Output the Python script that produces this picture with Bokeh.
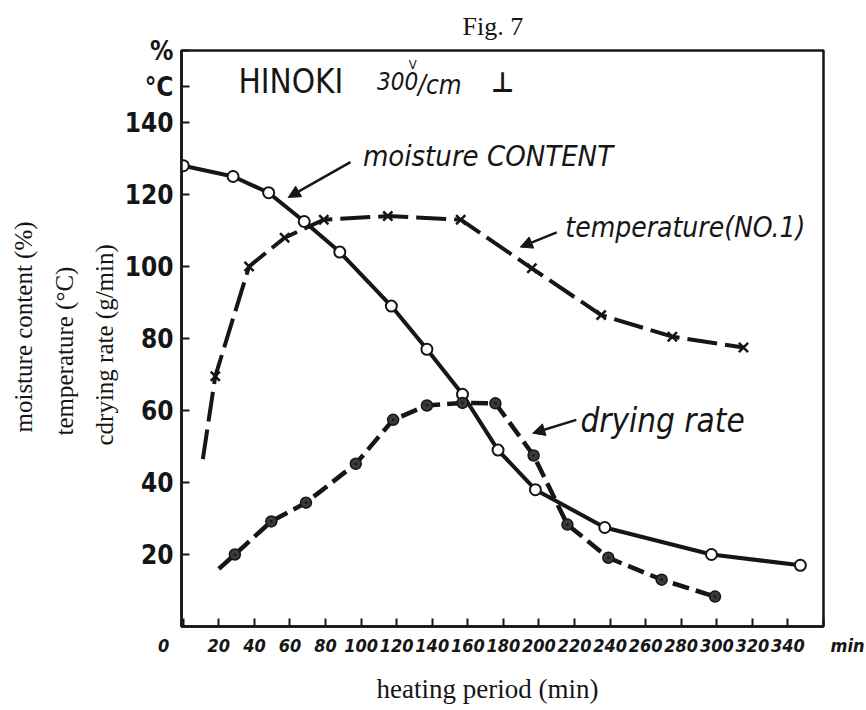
from bokeh.plotting import figure
from bokeh.models import Range1d, FixedTicker, Label, Arrow, NormalHead, Title
from bokeh.embed import file_html
from bokeh.resources import INLINE

# ---- data ----
# heating period (min) vs moisture content (%)
moist_x = [0, 28, 48, 68, 88, 117, 137, 157, 177, 198, 237, 297, 347]
moist_y = [128, 125, 120.5, 112.5, 104, 89, 77, 64.5, 49, 38, 27.5, 20, 17]

# temperature (deg C); first point is the start of the curve (no marker)
temp_x = [11, 18, 37, 57, 79, 115, 156, 196, 235, 275, 315]
temp_y = [46.5, 69.5, 100, 108, 113, 114, 113, 99.5, 86.5, 80.5, 77.5]

# drying rate (g/min); first point is the start of the curve (no marker)
dry_x = [20, 29, 49.5, 69, 97, 118, 137, 157, 175.5, 197, 216, 239, 269, 299]
dry_y = [16, 20, 29.2, 34.4, 45.2, 57.4, 61.4, 62.1, 62, 47.5, 28.3, 19.1, 13, 8.3]

x_ticks = [0, 20, 40, 60, 80, 100, 120, 140, 160, 180, 200, 220, 240, 260, 280, 300, 320, 340, 360]
x_tick_labels = ["0", "20", "40", "60", "80", "100", "120", "140", "160", "180", "200",
                 "220", "240", "260", "280", "300", "320", "340", "min"]
y_ticks = [20, 40, 60, 80, 100, 120, 140, 150, 160]
y_tick_labels = ["20", "40", "60", "80", "100", "120", "140", "\u00b0C", "%"]

INK = "#161616"
HAND = "DejaVu Sans Condensed, DejaVu Sans"
SERIF = "Liberation Serif"
NB = "\u00a0"

p = figure(frame_width=642, frame_height=576,
           min_border_left=181, min_border_right=41, min_border_top=50, min_border_bottom=84,
           x_range=Range1d(-1, 360), y_range=Range1d(0, 160),
           output_backend="svg", toolbar_location=None)

p.xgrid.visible = False
p.ygrid.visible = False
p.outline_line_color = INK
p.outline_line_width = 2.5
p.outline_line_alpha = 1.0
p.background_fill_color = "white"
p.border_fill_color = "white"

for ax in (p.xaxis[0], p.yaxis[0]):
    ax.axis_line_width = 2.5
    ax.axis_line_color = INK
    ax.major_tick_in = 8
    ax.major_tick_out = 0
    ax.major_tick_line_width = 2
    ax.major_tick_line_color = INK
    ax.minor_tick_line_color = None
    ax.major_label_text_color = INK

# x axis: "0" sits left of the axis, "min" right of the frame
xlab = {}
for t, s in zip(x_ticks, x_tick_labels):
    if s == "0":
        s = s + NB * 7
    elif s == "min":
        s = NB * 10 + s
    xlab[t] = s
p.xaxis.ticker = FixedTicker(ticks=x_ticks)
p.xaxis.major_label_overrides = xlab
p.xaxis.major_label_text_font = HAND
p.xaxis.major_label_text_font_style = "bold italic"
p.xaxis.major_label_text_font_size = "18px"
p.xaxis.major_label_standoff = 8

p.yaxis.ticker = FixedTicker(ticks=y_ticks)
p.yaxis.major_label_overrides = dict(zip(y_ticks, y_tick_labels))
p.yaxis.major_label_text_font = HAND
p.yaxis.major_label_text_font_style = "bold"
p.yaxis.major_label_text_font_size = "26px"
p.yaxis.major_label_standoff = 8

# ---- titles outside the frame ----
p.title.text = "Fig. 7"
p.title.align = "left"
p.title.offset = 281
p.title.text_font = SERIF
p.title.text_font_size = "26px"
p.title.text_font_style = "normal"
p.title.text_color = INK
p.title.standoff = 19

p.add_layout(Title(text="heating period (min)", align="left", offset=195, standoff=27,
                   text_font=SERIF, text_font_size="27px", text_font_style="normal",
                   text_color=INK), "below")

for txt, off, sto in [("cdrying rate (g/min)", 181, 8), ("temperature (\u00b0C)", 191, 14),
                      ("moisture content (%)", 194, 9)]:
    p.add_layout(Title(text=txt, align="left", offset=off, standoff=sto,
                       text_font=SERIF, text_font_size="25px", text_font_style="normal",
                       text_color=INK), "left")

# ---- curves ----
p.line(moist_x, moist_y, line_width=4, line_color=INK)
p.scatter(moist_x, moist_y, marker="circle", size=11, fill_color="white",
          line_color=INK, line_width=2)

p.line(temp_x, temp_y, line_width=4, line_color=INK, line_dash="30 8")
p.scatter(temp_x[1:], temp_y[1:], marker="x", size=13, line_color=INK, line_width=2.5)

p.line(dry_x, dry_y, line_width=4.5, line_color=INK, line_dash="17 7")
p.scatter(dry_x[1:], dry_y[1:], marker="circle_dot", size=11, fill_color="#3a3a3a",
          line_color=INK, line_width=1.5)

# ---- arrows ----
for xs, ys, xe, ye in [(94, 129, 59, 119.2), (210, 109.5, 189.5, 105.4), (221, 57.4, 196.5, 53.7)]:
    p.add_layout(Arrow(end=NormalHead(size=12, fill_color=INK, line_color=INK),
                       x_start=xs, y_start=ys, x_end=xe, y_end=ye,
                       line_width=2.5, line_color=INK))

def lab(x, y, text, size, font=HAND, style="italic", align="left", baseline="middle"):
    p.add_layout(Label(x=x, y=y, text=text, text_font=font, text_font_size=size,
                       text_font_style=style, text_align=align, text_baseline=baseline,
                       text_color=INK))

# curve annotations
lab(101, 130.8, "moisture CONTENT", "29px")
lab(214.8, 110.8, "temperature(NO.1)", "28px")
lab(223.3, 57.2, "drying rate", "33px")

# header text
lab(31, 151.4, "HINOKI", "33px", style="normal")
lab(109, 151.4, "300", "24px", style="italic")
lab(129, 156, "V", "13px", style="normal", align="center")
lab(132, 150.5, "/cm", "26px", style="italic")
lab(179.5, 151, "\u22a5", "28px", style="bold", align="center")

open("out.html", "w").write(file_html(p, INLINE))
